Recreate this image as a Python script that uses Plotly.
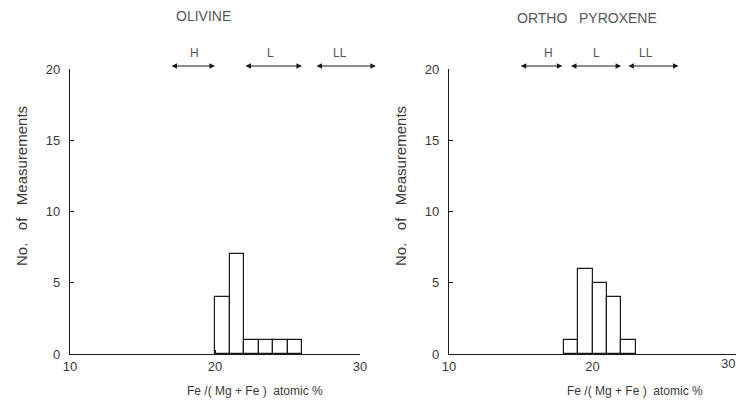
import plotly.graph_objects as go

# ---- data ----
olivine_bin_left = [20, 21, 22, 23, 24, 25]
olivine_counts = [4, 7, 1, 1, 1, 1]
opx_bin_left = [18, 19, 20, 21, 22]
opx_counts = [1, 6, 5, 4, 1]

groups = ["H", "L", "LL"]
olivine_range_start = [17.0, 22.1, 27.0]
olivine_range_end = [20.1, 26.1, 31.2]
opx_range_start = [15.0, 18.5, 22.5]
opx_range_end = [18.0, 22.1, 26.1]

x_ticks = [10, 20, 30]
x_tick_labels = ["10", "20", "30"]
y_ticks = [0, 5, 10, 15, 20]
panel_titles = ["OLIVINE", "ORTHO   PYROXENE"]
x_title = "Fe /( Mg + Fe )  atomic %"
y_title = "No.   of   Measurements"

# ---- styling / layout ----
VW, VH = 746, 405     # browser window
OFF = 8               # page body margin
W, H = VW - OFF, VH - OFF
LINE = "#1a1a1a"
TXT = "#3a3a3a"
TXT_LIGHT = "#555555"
FONT = "Liberation Sans"
olivine_label_x = [18.6, 23.8, 28.6]
opx_label_x = [16.9, 20.3, 23.7]


def px_x(p):
    return (p - OFF) / W


def px_y(p):
    return (H - (p - OFF)) / H


fig = go.Figure()

bin_width = 1
fig.add_trace(go.Bar(
    x=[b + bin_width / 2 for b in olivine_bin_left], y=olivine_counts, width=bin_width,
    marker=dict(color="white", line=dict(color=LINE, width=1.2)),
    xaxis="x", yaxis="y", showlegend=False, hoverinfo="skip"))
fig.add_trace(go.Bar(
    x=[b + bin_width / 2 for b in opx_bin_left], y=opx_counts, width=bin_width,
    marker=dict(color="white", line=dict(color=LINE, width=1.2)),
    xaxis="x2", yaxis="y2", showlegend=False, hoverinfo="skip"))

y_dom = [px_y(354), px_y(69)]
tickfont = dict(family=FONT, size=13, color=TXT)
common_x = dict(range=[10, 30], tickvals=x_ticks, showline=True, linecolor=LINE, linewidth=1.2,
                ticks="inside", ticklen=4, tickcolor=LINE, showgrid=False, zeroline=False,
                automargin=False, tickfont=tickfont)
common_y = dict(range=[0, 20], tickvals=y_ticks, showline=True, linecolor=LINE, linewidth=1.2,
                ticks="inside", ticklen=4, tickcolor=LINE, showgrid=False, zeroline=False,
                ticklabelstandoff=6, automargin=False, tickfont=tickfont)

fig.update_layout(
    template="none",
    width=W, height=H, margin=dict(l=0, r=0, t=0, b=0, pad=0), autosize=False,
    paper_bgcolor="white", plot_bgcolor="white", bargap=0, showlegend=False,
    xaxis=dict(domain=[px_x(70), px_x(360)], anchor="y", ticktext=x_tick_labels, **common_x),
    yaxis=dict(domain=y_dom, anchor="x", **common_y),
    # last label of the right panel is drawn as an annotation so it stays inside the page
    xaxis2=dict(domain=[px_x(449), px_x(736)], anchor="y2",
                ticktext=x_tick_labels[:-1] + [""], **common_x),
    yaxis2=dict(domain=y_dom, anchor="x2", **common_y),
)

ann = []
ann.append(dict(x=px_x(737), y=px_y(363), xref="paper", yref="paper", text=x_tick_labels[-1],
                showarrow=False, xanchor="right", yanchor="middle", font=tickfont))

arrow_y = px_y(66)
label_y = px_y(53)
for xr, starts, ends, lx in (("x", olivine_range_start, olivine_range_end, olivine_label_x),
                             ("x2", opx_range_start, opx_range_end, opx_label_x)):
    for g, s, e, tx in zip(groups, starts, ends, lx):
        ann.append(dict(x=s, y=arrow_y, xref=xr, yref="paper", ax=e, ay=0,
                        axref=xr, ayref="pixel", showarrow=True, arrowhead=2,
                        startarrowhead=2, arrowside="end+start", arrowsize=1.1,
                        startarrowsize=1.1, arrowwidth=1, arrowcolor=LINE, text=""))
        ann.append(dict(x=tx, y=label_y, xref=xr, yref="paper", text=g,
                        showarrow=False, xanchor="center", yanchor="middle",
                        font=dict(family=FONT, size=12, color=TXT_LIGHT)))

# panel titles
ann.append(dict(x=px_x(203), y=px_y(16), xref="paper", yref="paper", text=panel_titles[0],
                showarrow=False, xanchor="center", yanchor="middle",
                font=dict(family=FONT, size=14, color=TXT_LIGHT)))
ann.append(dict(x=px_x(587), y=px_y(18), xref="paper", yref="paper", text=panel_titles[1],
                showarrow=False, xanchor="center", yanchor="middle",
                font=dict(family=FONT, size=14, color=TXT_LIGHT)))
# x titles
for cx in (255, 635):
    ann.append(dict(x=px_x(cx), y=px_y(391), xref="paper", yref="paper", text=x_title,
                    showarrow=False, xanchor="center", yanchor="middle",
                    font=dict(family=FONT, size=12, color=TXT)))
# y titles
for cx in (21, 400):
    ann.append(dict(x=px_x(cx), y=px_y(186), xref="paper", yref="paper", text=y_title,
                    showarrow=False, textangle=-90, xanchor="center", yanchor="middle",
                    font=dict(family=FONT, size=15, color=TXT)))

fig.update_layout(annotations=ann)
fig.write_html("out.html")
